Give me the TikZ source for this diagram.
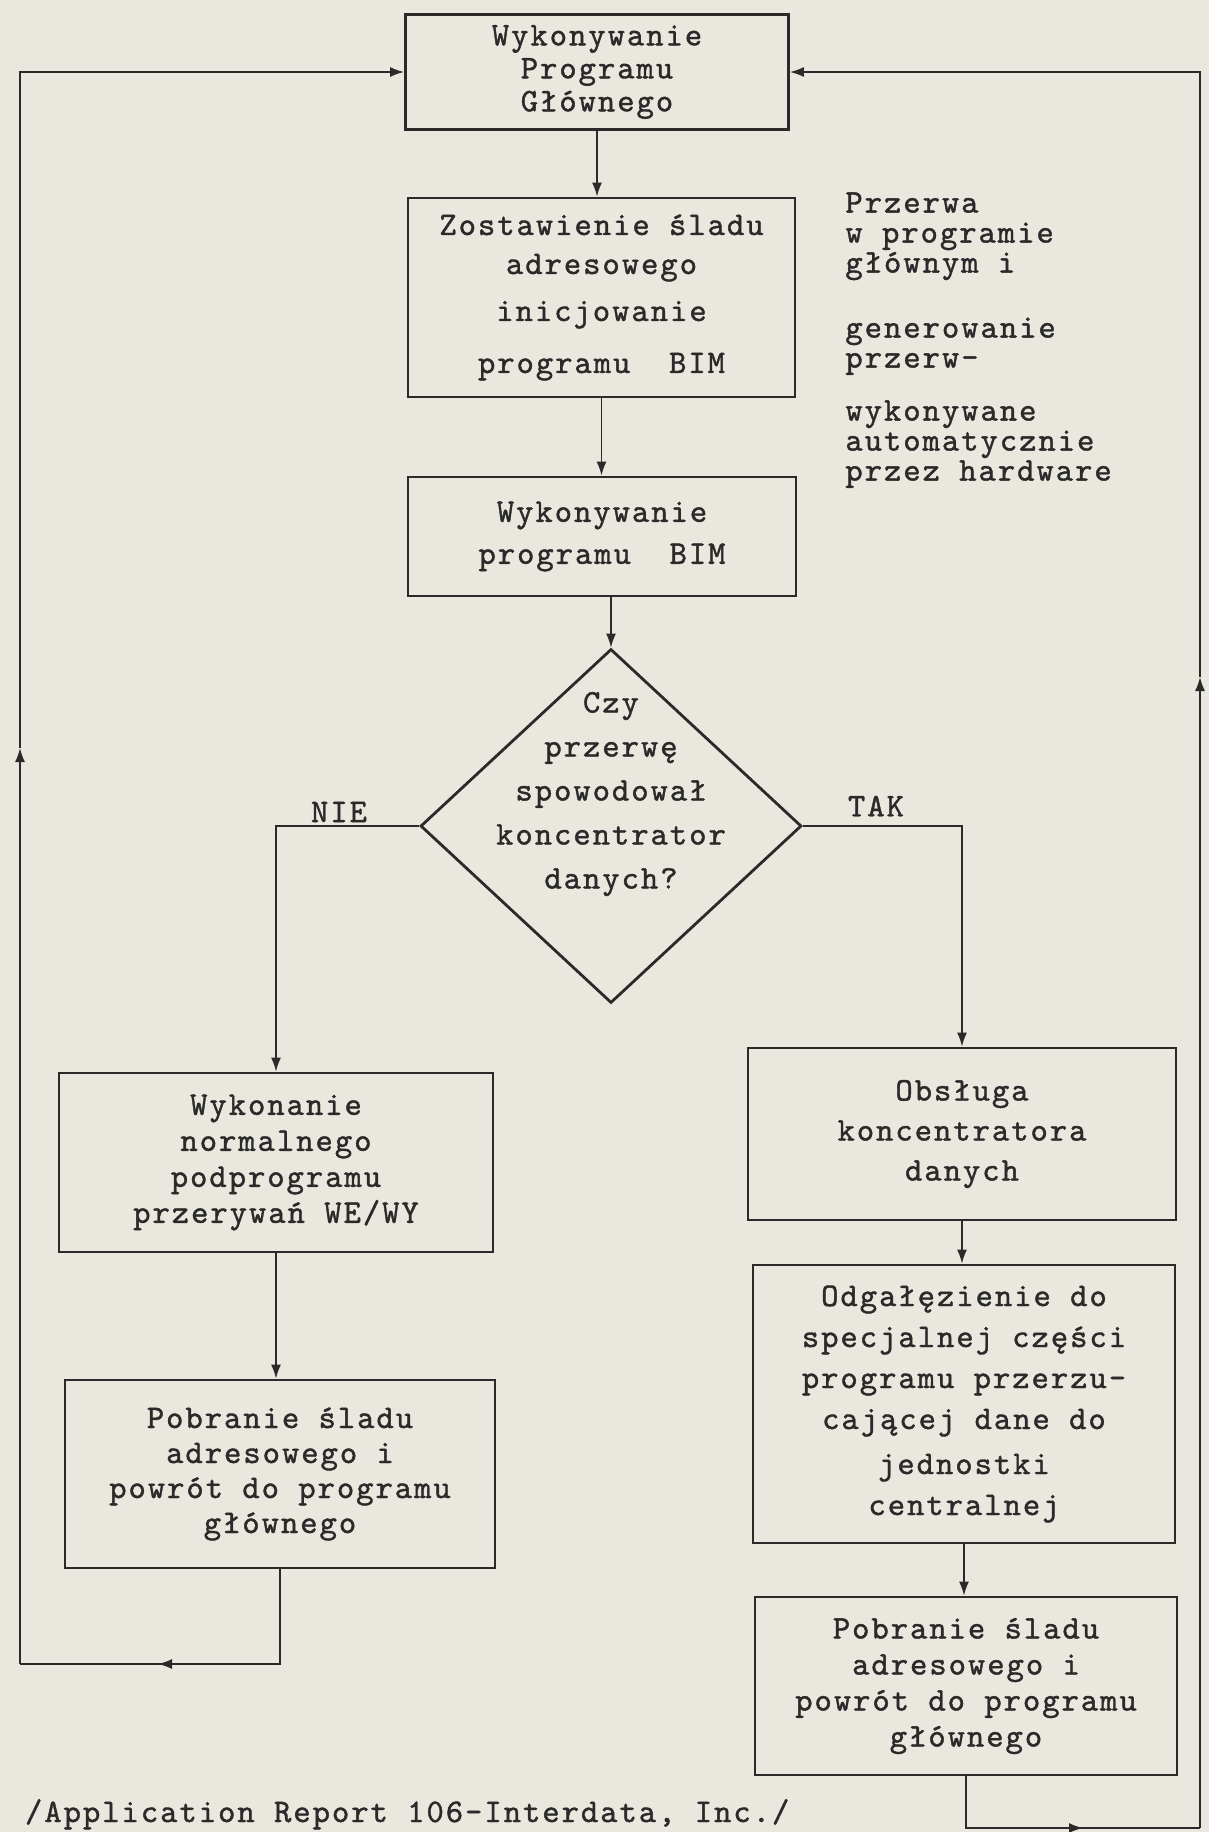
\documentclass[tikz,border=0pt]{standalone}
\usepackage{fontspec}
\usepackage{tikz}
\usetikzlibrary{positioning, arrows.meta, shapes.geometric}

\newfontfamily\typew{lmmono10-regular.otf}[LetterSpace=6, FakeBold=1.2]
\definecolor{paper}{RGB}{233,231,222}
\definecolor{ink}{RGB}{42,42,42}

\begin{document}
\begin{tikzpicture}[
        x = 0.5pt, y = -0.5pt,
        every node/.style = {
            align = center,
            text = ink,
            font = \typew\fontsize{16.5}{18}\selectfont
        },
        spacing/.style = {
            font = \typew\fontsize{16.5}{#1}\selectfont
        },
        box/.style = {
            draw = ink,
            line width = 1.4pt,
            rectangle,
            inner sep = 0pt
        },
        decision/.style = {
            draw = ink,
            line width = 1.4pt,
            diamond,
            inner sep = 0pt,
            minimum width = 190.5pt,
            minimum height = 177pt
        },
        note/.style = {
            align = left,
            inner sep = 0pt
        },
        line/.style = {draw = ink, line width = 0.8pt},
        arr/.style = {line, -{Latex[length = 7pt, width = 5pt]}}
    ]
        \fill[paper] (0,0) rectangle (1209,1832);
        \useasboundingbox (0,0) rectangle (1209,1832);

        % main column
        \node[box, spacing = 16.5pt, minimum width = 191.5pt, minimum height = 57.5pt] (main) at (597,72) {
            Wykonywanie \\ Programu \\ Głównego
        };
        \node[box, spacing = 19.5pt, minimum width = 193.5pt, minimum height = 99.5pt] (trace) at (601.5,297.5) {
            Zostawienie śladu \\ adresowego \\[4pt] inicjowanie \\[6.5pt] programu\ \ BIM
        };
        \node[box, spacing = 21pt, minimum width = 194pt, minimum height = 59.5pt] (bim) at (602,536.5) {
            Wykonywanie \\ programu\ \ BIM
        };
        \node[decision] (dec) at (611,826) {};
        \node[spacing = 22pt] (dectext) at ([yshift = 16pt]dec.center) {
            Czy \\ przerwę \\ spowodował \\ koncentrator \\ danych?
        };

        % side remark
        \node[note, spacing = 15pt, anchor = north west] (hardware) at (845,192) {
            Przerwa \\ w programie \\ głównym i \\[17.5pt]
            generowanie \\ przerw- \\[11.5pt]
            wykonywane \\ automatycznie \\ przez hardware
        };

        % branches
        \node (nie) at (339,812) {NIE};
        \node (tak) at (876,806) {TAK};

        \node[box, spacing = 18pt, minimum width = 217pt, minimum height = 89.5pt] (normal) at (276,1162.5) {
            Wykonanie \\ normalnego \\ podprogramu \\ przerywań WE/WY
        };
        \node[box, spacing = 17.5pt, minimum width = 215pt, minimum height = 94pt] (retleft) at (280,1474) {
            Pobranie śladu \\ adresowego i \\ powrót do programu \\ głównego
        };
        \node[box, spacing = 20pt, minimum width = 214pt, minimum height = 86pt] (serve) at (962,1134) {
            Obsługa \\ koncentratora \\ danych
        };
        \node[box, spacing = 20.5pt, minimum width = 211pt, minimum height = 139pt] (branch) at (964,1404) {
            Odgałęzienie do \\ specjalnej części \\ programu przerzu- \\ cającej dane do \\[2pt] jednostki \\ centralnej
        };
        \node[box, spacing = 18pt, minimum width = 211pt, minimum height = 89pt] (retright) at (966,1686) {
            Pobranie śladu \\ adresowego i \\ powrót do programu \\ głównego
        };

        \node[anchor = base west] (source) at (18,1822) {/Application Report 106-Interdata, Inc./};

        % connectors
        \draw[arr] (main.south) -- (main.south |- trace.north);
        \draw[arr] (trace.south) -- (trace.south |- bim.north);
        \draw[arr] (dec.north |- bim.south) -- (dec.north);
        \draw[arr] (dec.west) -| (normal.north);
        \draw[arr] (dec.east) -| (serve.north);
        \draw[arr] (normal.south) -- (normal.south |- retleft.north);
        \draw[arr] (serve.south) -- (serve.south |- branch.north);
        \draw[arr] (branch.south) -- (branch.south |- retright.north);

        % return loops
        \coordinate (lcorner) at (20,1664);
        \coordinate (ltip) at (158,1664);
        \coordinate (lup) at (20,748);
        \draw[line] (retleft.south) |- (lcorner);
        \draw[arr] (retleft.south |- lcorner) -- (ltip);
        \draw[arr] (lcorner) -- (lup);
        \draw[arr] (lup) -- (lcorner |- main.west) -- (main.west);

        \coordinate (rcorner) at (1200,1828);
        \coordinate (rtip) at (1083,1828);
        \coordinate (rup) at (1200,677);
        \draw[line] (retright.south) |- (rcorner);
        \draw[arr] (retright.south |- rcorner) -- (rtip);
        \draw[arr] (rcorner) -- (rup);
        \draw[arr] (rup) -- (rcorner |- main.east) -- (main.east);
\end{tikzpicture}
\end{document}
